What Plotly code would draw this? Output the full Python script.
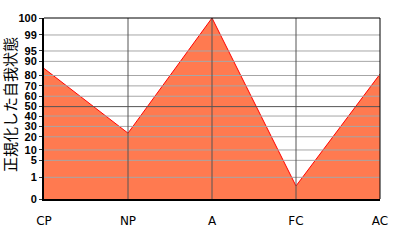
import numpy as np
import plotly.graph_objects as go

# Categories and values (percentile scores)
categories = ["CP", "NP", "A", "FC", "AC"]
values = [85, 23.5, 100, 0.6, 81]

# Non-linear (percentile) y scale: tick labels and their relative scale positions
tick_labels = [0, 1, 5, 10, 20, 30, 40, 50, 60, 70, 80, 90, 95, 99, 100]
scale_pos = [0, 23, 41, 52, 66, 77, 88, 98, 109, 120, 131, 146, 157, 174, 192]

def to_axis(v):
    return np.interp(v, tick_labels, scale_pos)

xs = list(range(len(categories)))
ys = to_axis(values)

fig = go.Figure()
fig.add_trace(go.Scatter(
    x=xs, y=ys, mode="lines", fill="tozeroy",
    fillcolor="#ff7a50", line=dict(color="#ff0000", width=1),
    hoverinfo="skip", showlegend=False,
))

shapes = []
# horizontal gridlines (above fill)
for lab, p in zip(tick_labels, scale_pos):
    if lab in (0, 100):
        continue
    shapes.append(dict(type="line", xref="paper", yref="y", x0=0, x1=1, y0=p, y1=p,
                       line=dict(color="#555555" if lab == 50 else "#a6a6a6", width=1),
                       layer="above"))
# vertical gridlines
for x in xs[1:-1]:
    shapes.append(dict(type="line", xref="x", yref="paper", x0=x, x1=x, y0=0, y1=1,
                       line=dict(color="#555555", width=1), layer="above"))
# top and right borders
shapes.append(dict(type="line", xref="paper", yref="paper", x0=0, x1=1, y0=1, y1=1,
                   line=dict(color="black", width=1), layer="above"))
shapes.append(dict(type="line", xref="paper", yref="paper", x0=1, x1=1, y0=0, y1=1,
                   line=dict(color="black", width=1), layer="above"))

fig.update_layout(
    width=400, height=240,
    margin=dict(l=44, r=16, t=12, b=36),
    paper_bgcolor="white", plot_bgcolor="white",
    shapes=shapes,
    xaxis=dict(
        range=[0, 4], tickvals=xs, ticktext=categories,
        showgrid=False, zeroline=False, showline=True, linecolor="black", linewidth=2,
        ticks="", ticklabelstandoff=10,
        tickfont=dict(family="DejaVu Sans", size=12, color="black"),
        layer="above traces", fixedrange=True,
    ),
    yaxis=dict(
        range=[0, 192], tickvals=scale_pos, ticktext=[str(t) for t in tick_labels],
        showgrid=False, zeroline=False, showline=True, linecolor="black", linewidth=2,
        ticks="outside", ticklen=3, tickcolor="#333333",
        tickfont=dict(family="Liberation Sans", size=11, color="black", weight="bold"),
        layer="above traces", fixedrange=True,
    ),
    annotations=[dict(
        text="正規化した自我状態", xref="paper", yref="paper", x=0, y=0.52,
        xanchor="center", yanchor="middle", xshift=-34, textangle=-90, showarrow=False,
        font=dict(family="Noto Sans CJK JP", size=15, color="black"),
    )],
)

fig.write_html("out.html")
